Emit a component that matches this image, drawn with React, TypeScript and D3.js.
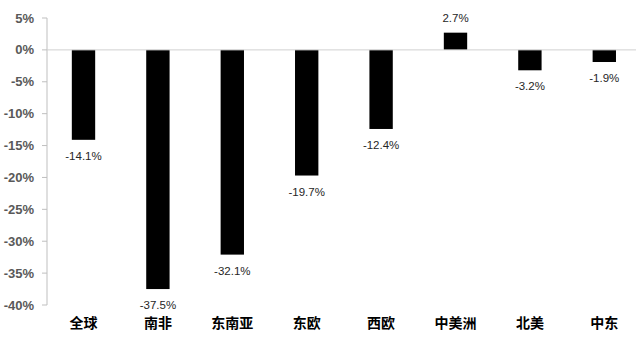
import React, { useEffect, useRef } from "react";
import * as d3 from "d3";

const categories = ["全球", "南非", "东南亚", "东欧", "西欧", "中美洲", "北美", "中东"];
const values = [-14.1, -37.5, -32.1, -19.7, -12.4, 2.7, -3.2, -1.9];
const yTicks = [5, 0, -5, -10, -15, -20, -25, -30, -35, -40];

export default function App() {
  const ref = useRef<SVGSVGElement>(null);
  useEffect(() => {
    const svg = d3.select(ref.current);
    svg.selectAll("*").remove();
    const axisX = 47;
    const bandStart = 46.3, bandEnd = 46.3 + 8 * 74.4;
    const y = d3.scaleLinear().domain([-40, 5]).range([305, 18]);
    const x = d3.scaleBand<string>().domain(categories).range([bandStart, bandEnd]).paddingInner(0.686).paddingOuter(0.343);
    const font = "'Liberation Sans', Arial, sans-serif";

    // y axis line
    svg.append("line").attr("x1", axisX).attr("x2", axisX).attr("y1", y(5)).attr("y2", y(-40))
      .attr("stroke", "#bfbfbf").attr("stroke-width", 1);
    yTicks.forEach((t) => {
      svg.append("line").attr("x1", axisX - 5).attr("x2", axisX).attr("y1", y(t)).attr("y2", y(t))
        .attr("stroke", "#bfbfbf");
      svg.append("text").attr("x", 34).attr("y", y(t)).attr("dy", "0.35em")
        .attr("text-anchor", "end").attr("font-family", font).attr("font-size", 13)
        .attr("font-weight", "bold").attr("fill", "#595959").text(`${t}%`);
    });

    svg.selectAll("rect.bar").data(values).enter().append("rect")
      .attr("x", (_, i) => x(categories[i])!)
      .attr("width", x.bandwidth())
      .attr("y", (v) => y(Math.max(0, v)))
      .attr("height", (v) => Math.abs(y(v) - y(0)))
      .attr("fill", "#000");

    // zero line
    svg.append("line").attr("x1", axisX).attr("x2", 636).attr("y1", y(0)).attr("y2", y(0))
      .attr("stroke", "#d0d0d0").attr("stroke-width", 1);

    svg.selectAll("text.val").data(values).enter().append("text")
      .attr("x", (_, i) => x(categories[i])! + x.bandwidth() / 2)
      .attr("y", (v) => (v >= 0 ? y(v) - 15 : y(v) + 16))
      .attr("dy", "0.35em").attr("text-anchor", "middle")
      .attr("font-family", font).attr("font-size", 11.5).attr("fill", "#262626")
      .text((v) => `${v.toFixed(1)}%`);

    svg.selectAll("text.cat").data(categories).enter().append("text")
      .attr("x", (c) => x(c)! + x.bandwidth() / 2)
      .attr("y", 323).attr("dy", "0.35em").attr("text-anchor", "middle")
      .attr("font-family", "'Noto Sans CJK SC', sans-serif").attr("font-size", 14)
      .attr("font-weight", "bold").attr("fill", "#000").text((c) => c);
  }, []);
  return (
    <svg ref={ref} width={636} height={338}
      style={{ position: "absolute", left: 0, top: 0, background: "#fff" }} />
  );
}
